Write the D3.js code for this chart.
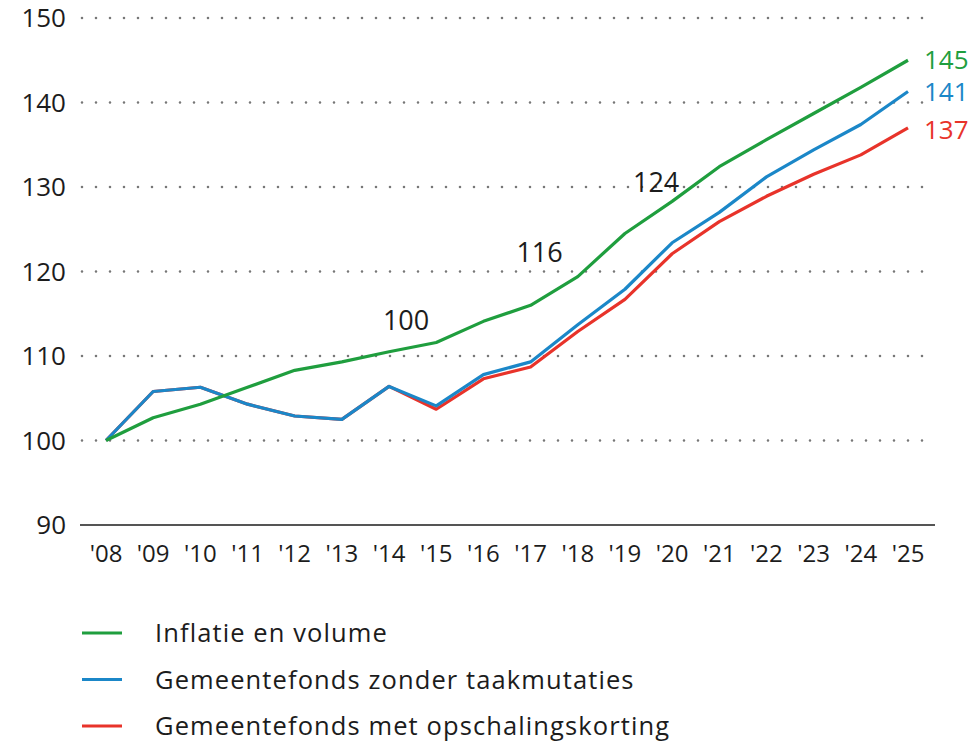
<!DOCTYPE html>
<html>
<head>
<meta charset="utf-8">
<script src="https://cdn.jsdelivr.net/npm/d3@7"></script>
<style>
  body { margin: 0; background: #fff; }
  svg text { font-family: "Open Sans", "Noto Sans", sans-serif; fill: #1c1c1c; }
</style>
</head>
<body>
<svg id="chart" width="978" height="742"></svg>
<script>
// ---- data ----
const years = ['08','09','10','11','12','13','14','15','16','17','18','19','20','21','22','23','24','25'];
const inflatie = [100, 102.7, 104.3, 106.3, 108.3, 109.3, 110.5, 111.6, 114.1, 116.0, 119.4, 124.5, 128.3, 132.4, 135.6, 138.7, 141.8, 145.0];
const zonder   = [100, 105.8, 106.3, 104.3, 102.9, 102.5, 106.4, 104.1, 107.8, 109.3, 113.7, 117.9, 123.4, 127.0, 131.2, 134.4, 137.4, 141.3];
const met      = [100, 105.8, 106.3, 104.3, 102.9, 102.5, 106.4, 103.7, 107.3, 108.7, 112.9, 116.7, 122.1, 125.9, 128.9, 131.5, 133.8, 137.0];
const yTicks = [90, 100, 110, 120, 130, 140, 150];
const gridTicks = [100, 110, 120, 130, 140, 150];
const seriesNames = ['Inflatie en volume', 'Gemeentefonds zonder taakmutaties', 'Gemeentefonds met opschalingskorting'];
const endLabels = ['145', '141', '137'];
// in-chart annotations: [year, value, text]
const notes = [['14', 113.1, '100'], ['17', 121.1, '116'], ['20', 129.4, '124']];
const noteShift = [17, 9, -16];

const colors = ['#1f9e3e', '#1b87c8', '#e8332a'];

const svg = d3.select('#chart');
const x = d3.scalePoint().domain(years).range([106, 908]);
const y = d3.scaleLinear().domain([90, 150]).range([525, 18]);

// dotted gridlines
svg.append('g').selectAll('line')
  .data(gridTicks)
  .join('line')
    .attr('x1', 82).attr('x2', 934)
    .attr('y1', d => y(d)).attr('y2', d => y(d))
    .attr('stroke', '#777').attr('stroke-width', 2.6)
    .attr('stroke-linecap', 'round')
    .attr('stroke-dasharray', '0,14');

// base axis line
svg.append('line')
  .attr('x1', 80).attr('x2', 935)
  .attr('y1', y(90)).attr('y2', y(90))
  .attr('stroke', '#555').attr('stroke-width', 2);

// y tick labels
svg.append('g').selectAll('text')
  .data(yTicks)
  .join('text')
    .attr('x', 66).attr('y', d => y(d) + 9)
    .attr('text-anchor', 'end')
    .attr('font-size', 26)
    .text(d => d);

// x tick labels
svg.append('g').selectAll('text')
  .data(years)
  .join('text')
    .attr('x', d => x(d)).attr('y', 562)
    .attr('text-anchor', 'middle')
    .attr('font-size', 24)
    .text(d => "'" + d);

// lines (red under blue under green)
const line = d3.line().x((d, i) => x(years[i])).y(d => y(d));
const all = [inflatie, zonder, met];
[2, 1, 0].forEach(i => {
  svg.append('path').datum(all[i])
    .attr('fill', 'none')
    .attr('stroke', colors[i])
    .attr('stroke-width', 3.2)
    .attr('stroke-linejoin', 'round')
    .attr('d', line);
});

// end labels
all.forEach((s, i) => {
  svg.append('text')
    .attr('x', x('25') + 16)
    .attr('y', y(s[s.length - 1]) + [9, 9, 11][i])
    .attr('font-size', 26)
    .style('fill', colors[i])
    .text(endLabels[i]);
});

// annotations
svg.append('g').selectAll('text')
  .data(notes)
  .join('text')
    .attr('x', (d, i) => x(d[0]) + noteShift[i]).attr('y', d => y(d[1]))
    .attr('text-anchor', 'middle')
    .attr('font-size', 27)
    .text(d => d[2]);

// legend
const lg = svg.append('g').attr('class', 'legend');
seriesNames.forEach((name, i) => {
  const ly = 633 + i * 46.5;
  lg.append('line')
    .attr('x1', 82).attr('x2', 122)
    .attr('y1', ly).attr('y2', ly)
    .attr('stroke', colors[i]).attr('stroke-width', 3.2);
  lg.append('text')
    .attr('x', 155).attr('y', ly + 9)
    .attr('font-size', 25.5)
    .attr('letter-spacing', 1.1)
    .text(name);
});
</script>
</body>
</html>
